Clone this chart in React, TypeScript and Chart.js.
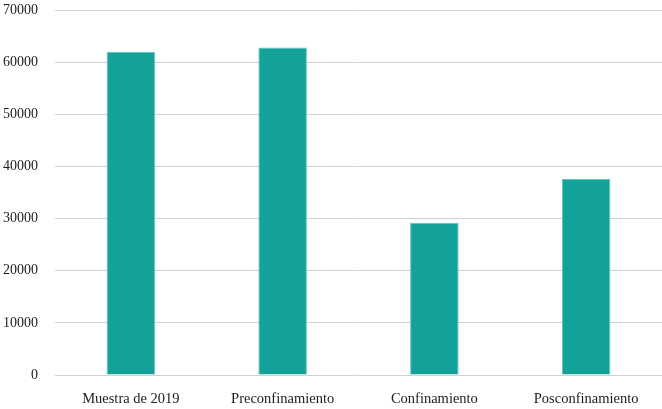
import React, { useRef, useEffect } from 'react';
import { Chart, registerables } from 'chart.js';

Chart.register(...registerables);

const CATEGORIES = ['Muestra de 2019', 'Preconfinamiento', 'Confinamiento', 'Posconfinamiento'];
const VALUES = [62000, 62800, 29200, 37600];
const Y_TICKS = [0, 10000, 20000, 30000, 40000, 50000, 60000, 70000];

const BAR_COLOR = '#13a29a';
const BAR_EDGE = '#5cc6bd';
const GRID_COLOR = '#d2d2d2';
const TEXT_COLOR = '#1c1c1c';
const FONT = '"Liberation Serif", "Times New Roman", serif';

const App: React.FC = () => {
  const canvasRef = useRef<HTMLCanvasElement | null>(null);
  const chartRef = useRef<Chart | null>(null);

  useEffect(() => {
    document.body.style.margin = '0';
    if (!canvasRef.current) return;
    const ctx = canvasRef.current.getContext('2d');
    if (!ctx) return;

    chartRef.current = new Chart(ctx, {
      type: 'bar',
      data: {
        labels: CATEGORIES,
        datasets: [
          {
            data: VALUES,
            backgroundColor: BAR_COLOR,
            borderColor: BAR_EDGE,
            borderWidth: 1,
            barPercentage: 0.32,
            categoryPercentage: 1,
          },
        ],
      },
      options: {
        animation: false,
        responsive: true,
        maintainAspectRatio: false,
        layout: { padding: { top: 10, left: 2, right: 0, bottom: 0 } },
        plugins: {
          legend: { display: false },
          title: { display: false },
          tooltip: { enabled: false },
        },
        scales: {
          y: {
            min: 0,
            max: 70000,
            afterBuildTicks: (axis) => {
              axis.ticks = Y_TICKS.map((v) => ({ value: v }));
            },
            afterFit: (axis: any) => {
              // tick padding is counted twice by chart.js; fix the width by hand
              axis.width = 53;
              axis.paddingTop = 0;
              axis.paddingBottom = 0;
            },
            ticks: {
              font: { family: FONT, size: 14 },
              color: TEXT_COLOR,
              padding: 17,
              callback: (v) => String(v),
            },
            grid: { color: GRID_COLOR, lineWidth: 1, drawTicks: false },
            border: { display: false },
          },
          x: {
            afterFit: (axis: any) => {
              axis.height = 34;
              axis.paddingLeft = 0;
              axis.paddingRight = 0;
            },
            ticks: {
              font: { family: FONT, size: 14.5 },
              color: TEXT_COLOR,
              padding: 7,
              maxRotation: 0,
            },
            grid: { display: false },
            border: { display: false },
          },
        },
      },
    });

    return () => {
      if (chartRef.current) {
        chartRef.current.destroy();
        chartRef.current = null;
      }
    };
  }, []);

  return (
    <div style={{ position: 'relative', width: 662, height: 409, background: '#fff' }}>
      <canvas ref={canvasRef} role="img" aria-label="Gráfico de barras"></canvas>
    </div>
  );
};

export default App;
